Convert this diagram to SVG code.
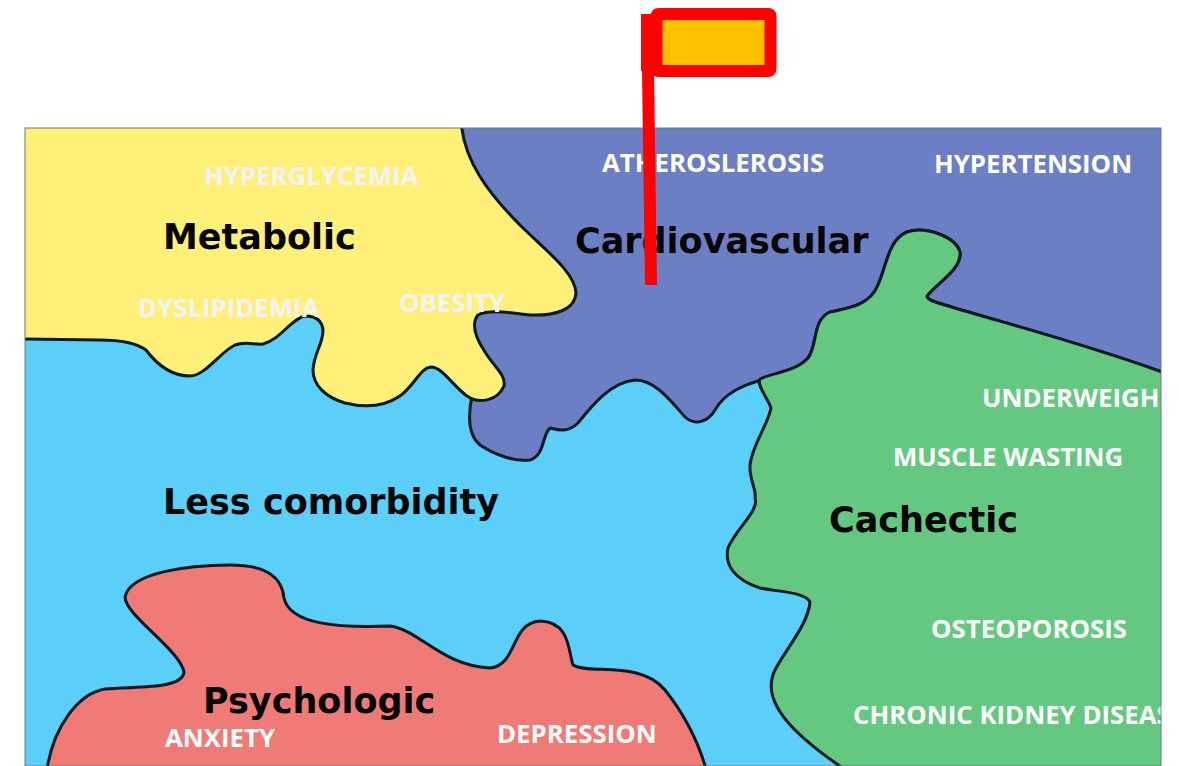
<svg xmlns="http://www.w3.org/2000/svg" width="1179" height="766" viewBox="0 0 1179 766">
<defs><clipPath id="frame"><rect x="25" y="128" width="1136" height="638"/></clipPath></defs>
<style>
.r{stroke:#0b1a22;stroke-width:3;stroke-linejoin:round;clip-path:url(#frame)}
.t{font-family:"DejaVu Sans",sans-serif;font-weight:700;font-size:35px;fill:#050505}
.w{font-family:"Open Sans","Noto Sans",sans-serif;font-weight:700;font-size:25.800px;fill:#fff}
.p{fill:#f4f4f6}
</style>
<rect width="1179" height="766" fill="#fff"/>
<g id="less-comorbidity">
<rect x="25" y="128" width="1136" height="638" fill="#5bcff8"/>
<text class="t" x="163" y="514">Less comorbidity</text>
</g>
<g id="cardiovascular">
<path class="r" fill="#6c7fc4" d="M430,118 L1170,118 L1170,375 C1090,345 1000,322 945,305 C935,302 927,300 927,296 C935,284 962,270 960,252 C955,236 925,226 907,232 C888,240 887,265 878,285 C870,305 850,308 830,312 C812,320 818,345 808,358 C795,372 775,372 758,381 C745,385 725,392 715,410 C708,422 695,426 685,417 C670,400 655,380 635,380 C610,382 590,408 578,423 C568,433 558,430 550,428 C542,435 545,455 530,460 C515,462 495,455 480,445 C468,435 468,415 472,396 L470,300 Z"/>
<text class="t" x="575" y="253">Cardiovascular</text>
<text class="w" x="602" y="172">ATHEROSLEROSIS</text>
<text class="w" x="934" y="173">HYPERTENSION</text>
</g>
<g id="metabolic">
<path class="r" fill="#fff07a" d="M15,118 L461,118 C462,160 490,195 520,225 C545,250 575,272 576,293 C575,310 555,316 530,315 C510,313 490,309 478,315 C470,325 477,340 485,352 C495,368 506,375 504,386 C498,400 480,405 467,396 C452,385 442,367 431,367 C420,368 415,385 400,396 C385,406 365,408 345,403 C325,397 313,385 313,370 C314,352 323,345 323,330 C322,320 315,316 305,316 C292,318 280,340 263,344 C255,345 245,341 235,345 C220,352 205,376 190,376 C170,376 155,362 146,350 C135,342 115,340 100,340 L15,339 Z"/>
<text class="t" x="163" y="249">Metabolic</text>
<text class="w p" x="204" y="185">HYPERGLYCEMIA</text>
<text class="w p" x="138" y="317">DYSLIPIDEMIA</text>
<text class="w p" x="399" y="312">OBESITY</text>
</g>
<g id="cachectic">
<path class="r" fill="#64c880" d="M1170,375 C1090,345 1000,322 945,305 C935,302 927,300 927,296 C935,284 962,270 960,252 C955,236 925,226 907,232 C888,240 887,265 878,285 C870,305 850,308 830,312 C812,320 818,345 808,358 C795,372 775,372 760,379 C756,385 768,398 771,408 C768,425 752,445 750,465 C749,480 757,490 755,498 C760,510 735,530 728,548 C724,565 735,580 760,588 C780,592 805,592 810,602 C808,625 785,650 775,670 C765,690 775,710 795,730 C810,745 825,757 855,776 L1170,776 Z"/>
<text class="t" x="829" y="532">Cachectic</text>
<text class="w" x="982" y="407">UNDERWEIGH</text>
<text class="w" x="893" y="466">MUSCLE WASTING</text>
<text class="w" x="931" y="638">OSTEOPOROSIS</text>
<text class="w" x="853" y="724">CHRONIC KIDNEY DISEAS</text>
</g>
<g id="psychologic">
<path class="r" fill="#ef7a76" d="M46,776 C52,725 80,693 105,689 C135,686 182,690 184,672 C180,650 125,615 125,597 C130,572 190,565 230,565 C268,565 282,578 284,598 C290,625 340,628 390,626 C420,630 440,665 490,668 C518,665 510,623 540,621 C570,622 568,650 573,665 C590,675 640,660 665,690 C685,715 700,745 708,776 Z"/>
<text class="t" x="203" y="713">Psychologic</text>
<text class="w" x="165" y="747">ANXIETY</text>
<text class="w" x="497" y="743">DEPRESSION</text>
</g>
<rect x="25" y="128" width="1136" height="638" fill="none" stroke="#6b7a82" stroke-width="1"/>
<g id="flag">
<path d="M641,14 H655 Q651,14 651,18 V71 H654 L657,285 H645 L642,71 H641 Z" fill="#f00"/>
<rect x="656.500" y="14" width="114" height="57" rx="2" fill="#ffc000" stroke="#f00" stroke-width="12" stroke-linejoin="round"/>
</g>
</svg>
